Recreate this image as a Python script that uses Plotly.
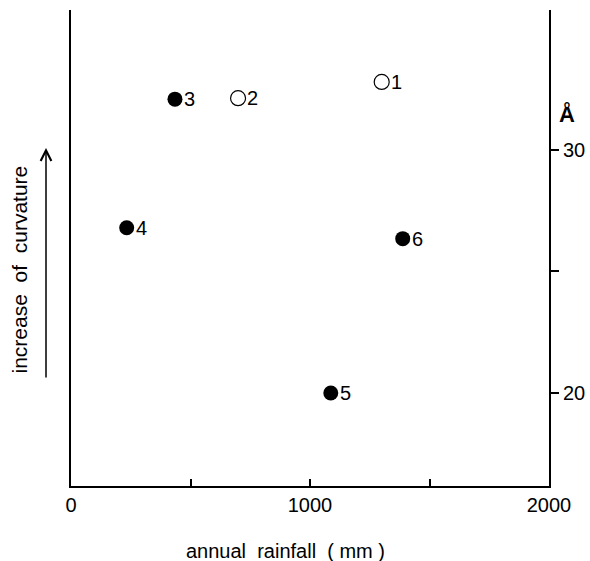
import plotly.graph_objects as go

# data
open_ids = ["1", "2"]
open_rain = [1300, 699]
open_a = [32.8, 32.13]

filled_ids = ["3", "4", "5", "6"]
filled_rain = [435, 233, 1087, 1388]
filled_a = [32.09, 26.8, 20.0, 26.35]

x_tickvals = [0, 500, 1000, 1500, 2000]
x_ticktext = ["0", "", "1000", "", "2000"]
y_tickvals = [20, 25, 30]
y_ticktext = ["20", "", "30"]

FONT = "Liberation Sans, Arial, Helvetica, sans-serif"
yr = [16.17, 35.76]

fig = go.Figure()
fig.add_trace(go.Scatter(
    x=open_rain, y=open_a, mode="markers",
    marker=dict(symbol="circle-open", size=15, color="black", line=dict(width=1.2, color="black")),
    yaxis="y", showlegend=False, cliponaxis=False))
fig.add_trace(go.Scatter(
    x=filled_rain, y=filled_a, mode="markers",
    marker=dict(symbol="circle", size=15, color="black"),
    yaxis="y", showlegend=False, cliponaxis=False))

for xs, ys, ts in [(open_rain, open_a, open_ids), (filled_rain, filled_a, filled_ids)]:
    for xv, yv, tv in zip(xs, ys, ts):
        fig.add_annotation(x=xv, y=yv, xref="x", yref="y", text=tv, showarrow=False,
                           xanchor="left", yanchor="middle", xshift=7,
                           font=dict(size=20, family=FONT, color="black"))

fig.update_layout(
    width=590, height=561,
    margin=dict(l=71, r=41, t=10, b=75, autoexpand=False),
    plot_bgcolor="white", paper_bgcolor="white",
    font=dict(family=FONT, color="black", size=18),
    xaxis=dict(range=[0, 2000], tickvals=x_tickvals, ticktext=x_ticktext,
               ticks="inside", ticklen=7, tickwidth=1.5, tickcolor="black",
               showline=True, linecolor="black", linewidth=2, showgrid=False,
               zeroline=False, tickfont=dict(size=20), automargin=False),
    yaxis=dict(range=yr, side="right", tickvals=y_tickvals, ticktext=y_ticktext,
               ticks="outside", ticklen=8, tickwidth=1.5, tickcolor="black",
               showline=True, linecolor="black", linewidth=2, showgrid=False,
               zeroline=False, tickfont=dict(size=20), automargin=False),
    yaxis2=dict(range=yr, overlaying="y", side="left", showticklabels=False,
                ticks="", showline=True, linecolor="black", linewidth=2,
                showgrid=False, zeroline=False, automargin=False),
)
# invisible trace to activate yaxis2
fig.add_trace(go.Scatter(x=[None], y=[None], yaxis="y2", showlegend=False))

fig.add_annotation(text="annual  rainfall  ( mm )", xref="paper", yref="paper",
                   x=(285 - 71) / 478, y=(486 - 551) / 476, showarrow=False,
                   xanchor="center", yanchor="middle", font=dict(size=20, family=FONT))
fig.add_annotation(text="<b>Å</b>", xref="paper", yref="paper",
                   x=(577 - 71) / 478, y=(486 - 114) / 476, showarrow=False,
                   yanchor="middle", font=dict(size=22, family=FONT))
fig.add_annotation(text="increase  of  curvature", xref="paper", yref="paper",
                   x=(5 - 71) / 478, y=(486 - 270) / 476, textangle=-90, showarrow=False,
                   font=dict(size=21, family=FONT))
fig.add_annotation(text="", xref="paper", yref="paper",
                   x=(46 - 71) / 478, y=(486 - 148) / 476, ax=0, ay=231,
                   showarrow=True, arrowhead=5, arrowsize=1.4, arrowwidth=1.5,
                   arrowcolor="black")

fig.write_html("out.html", config={"displayModeBar": False},
               post_script="document.body.style.margin='0';")
